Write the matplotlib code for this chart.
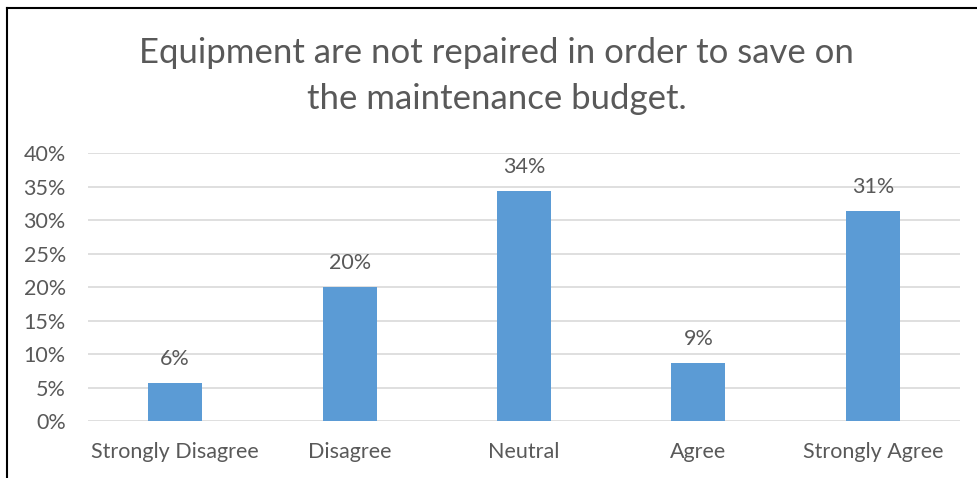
import matplotlib.pyplot as plt
from matplotlib.lines import Line2D
import numpy as np

plt.rcParams['font.family'] = ['Lato', 'DejaVu Sans']

categories = ['Strongly Disagree', 'Disagree', 'Neutral', 'Agree', 'Strongly Agree']
shares = [5.7, 20.0, 34.3, 8.6, 31.4]          # percent of respondents
yticks = [0, 5, 10, 15, 20, 25, 30, 35, 40]
title = 'Equipment are not repaired in order to save on\nthe maintenance budget.'

TEXT = '#595959'
BAR = '#5b9bd5'
GRID = '#d9d9d9'

fig = plt.figure(figsize=(9.77, 4.78), dpi=100)
ax = fig.add_axes([0.0901, 0.1192, 0.8925, 0.5607])

x = np.arange(len(categories))
ax.bar(x, shares, width=0.31, color=BAR, zorder=2)
for xi, v in zip(x, shares):
    ax.text(xi, v + 2.1, f'{v:.0f}%', ha='center', va='bottom',
            fontsize=15.5, color=TEXT)

ax.set_xlim(-0.5, len(categories) - 0.5)
ax.set_ylim(0, 40)
ax.set_yticks(yticks)
ax.set_yticklabels([f'{t}%' for t in yticks])
ax.set_xticks(x)
ax.set_xticklabels(categories)
ax.tick_params(length=0, labelsize=15.5, labelcolor=TEXT)
ax.tick_params(axis='y', pad=16)
ax.tick_params(axis='x', pad=15)
ax.grid(axis='y', color=GRID, linewidth=1.2, zorder=0)
for s in ax.spines.values():
    s.set_visible(False)

fig.text(0.508, 0.841, title, ha='center', va='center', fontsize=25,
         color=TEXT, linespacing=1.55)

# outer frame (left and top edges)
fig.add_artist(Line2D([0.0067, 0.0067], [0, 0.983], color='black', lw=1.5))
fig.add_artist(Line2D([0.0067, 1], [0.983, 0.983], color='black', lw=1.5))

fig.savefig('out.png', dpi=100, facecolor='white')
